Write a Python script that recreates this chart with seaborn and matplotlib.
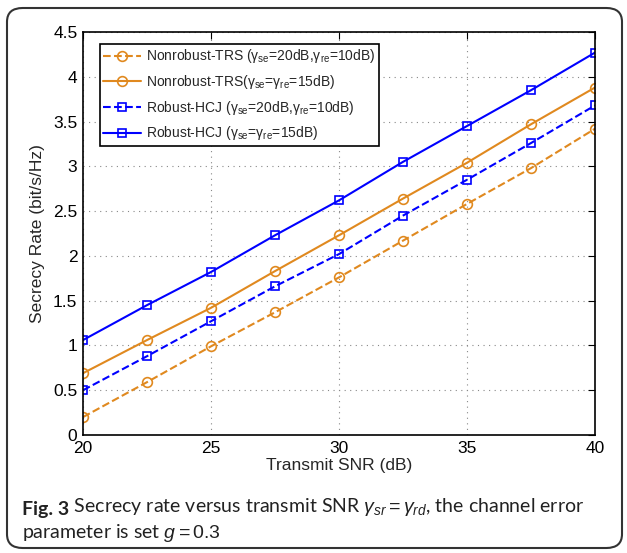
import matplotlib
matplotlib.use("Agg")
import matplotlib.pyplot as plt
import seaborn as sns
from matplotlib.patches import FancyBboxPatch

snr = [20, 22.5, 25, 27.5, 30, 32.5, 35, 37.5, 40]
nonrobust_20_10 = [0.20, 0.59, 0.99, 1.37, 1.76, 2.17, 2.58, 2.98, 3.42]
nonrobust_15 = [0.69, 1.06, 1.42, 1.83, 2.23, 2.64, 3.04, 3.47, 3.88]
robust_20_10 = [0.50, 0.88, 1.27, 1.66, 2.02, 2.45, 2.85, 3.26, 3.68]
robust_15 = [1.06, 1.45, 1.82, 2.23, 2.62, 3.05, 3.45, 3.85, 4.27]

labels = [
    r"Nonrobust-TRS ($\mathregular{\gamma_{se}}$=20dB,$\mathregular{\gamma_{re}}$=10dB)",
    r"Nonrobust-TRS($\mathregular{\gamma_{se}}$=$\mathregular{\gamma_{re}}$=15dB)",
    r"Robust-HCJ ($\mathregular{\gamma_{se}}$=20dB,$\mathregular{\gamma_{re}}$=10dB)",
    r"Robust-HCJ ($\mathregular{\gamma_{se}}$=$\mathregular{\gamma_{re}}$=15dB)",
]
xticks = [20, 25, 30, 35, 40]
yticks = [0, 0.5, 1, 1.5, 2, 2.5, 3, 3.5, 4, 4.5]
ytick_labels = ["0", "0.5", "1", "1.5", "2", "2.5", "3", "3.5", "4", "4.5"]

sns.set_style("white")
plt.rcParams["font.family"] = ["Liberation Sans", "DejaVu Sans"]
plt.rcParams["mathtext.fontset"] = "custom"
plt.rcParams["mathtext.rm"] = "Liberation Sans"
plt.rcParams["mathtext.it"] = "Liberation Sans:italic"

W, H = 627, 553
fig = plt.figure(figsize=(W / 100, H / 100), dpi=100)
ax = fig.add_axes([83 / W, 1 - 435 / H, 512 / W, 403 / H])

orange = "#E0891F"
blue = "#0000FF"
series = [nonrobust_20_10, nonrobust_15, robust_20_10, robust_15]
styles = [(orange, "--", "o", 7), (orange, "-", "o", 7), (blue, "--", "s", 5.5), (blue, "-", "s", 5.5)]
for vals, lab, (c, ls, m, ms) in zip(series, labels, styles):
    sns.lineplot(x=snr, y=vals, ax=ax, color=c, linestyle=ls, marker=m,
                 markersize=ms, markerfacecolor="none", markeredgecolor=c,
                 markeredgewidth=1.2, linewidth=1.5, label=lab)

ax.set_xlim(20, 40)
ax.set_ylim(0, 4.5)
ax.set_xticks(xticks)
ax.set_xticklabels([str(t) for t in xticks])
ax.set_yticks(yticks)
ax.set_yticklabels(ytick_labels)
ax.tick_params(direction="in", length=5, width=0.8, labelsize=12.5, pad=4,
               top=True, right=True, colors="black")
ax.grid(True, linestyle=(0, (1, 4)), color="#888888", linewidth=0.8)
for s in ax.spines.values():
    s.set_color("black")
    s.set_linewidth(1.2)
ax.set_xlabel("Transmit SNR (dB)", fontsize=12.5, labelpad=2)
ax.set_ylabel("Secrecy Rate (bit/s/Hz)", fontsize=12.5, labelpad=6)

leg = ax.legend(loc="upper left", bbox_to_anchor=(17 / 512, 1 - 12 / 403),
                borderaxespad=0, fontsize=10, frameon=True, fancybox=False,
                edgecolor="black", handlelength=2.7, labelspacing=0.55,
                borderpad=0.25, handletextpad=0.35)
leg.get_frame().set_linewidth(1.2)
leg.get_frame().set_alpha(1)

border = FancyBboxPatch((7 / W, 5 / H), 615 / W, 540 / H,
                        boxstyle="round,pad=0,rounding_size=0.025",
                        transform=fig.transFigure, fill=False,
                        edgecolor="#333333", linewidth=1.5)
fig.patches.append(border)

cap_font = ["Lato", "DejaVu Sans"]
cap_size = 14
t1 = fig.text(22 / W, 1 - 515 / H, "Fig. 3", fontsize=cap_size, fontweight="bold",
              family=cap_font, va="baseline", color="#222222")
plt.annotate(r" Secrecy rate versus transmit SNR $\mathit{\gamma_{sr}}=\mathit{\gamma_{rd}}$, the channel error",
             xy=(1, 0), xycoords=t1, va="bottom", ha="left", fontsize=cap_size,
             family=cap_font, color="#222222", annotation_clip=False)
fig.text(22 / W, 1 - 538 / H, r"parameter is set $\mathit{g}=0.3$", fontsize=cap_size,
         family=cap_font, va="baseline", color="#222222")

fig.savefig("out.png", dpi=100)
